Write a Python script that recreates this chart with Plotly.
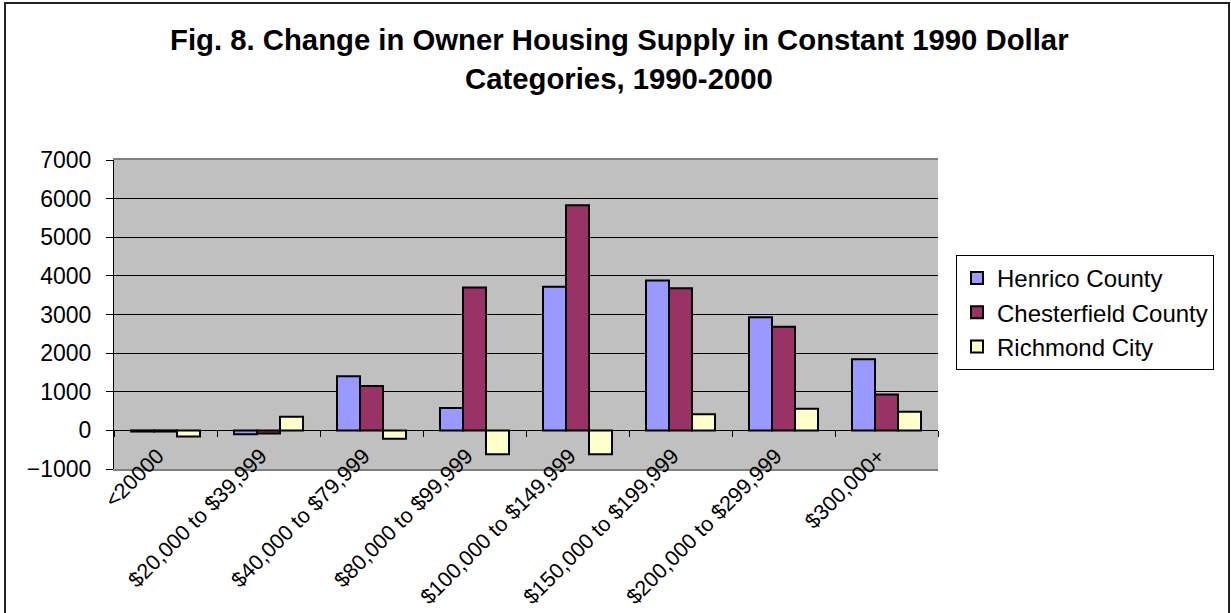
import plotly.graph_objects as go

categories = ["<20000", "$20,000 to $39,999", "$40,000 to $79,999", "$80,000 to $99,999",
              "$100,000 to $149,999", "$150,000 to $199,999", "$200,000 to $299,999", "$300,000+"]
henrico = [-30, -100, 1400, 580, 3720, 3880, 2930, 1840]
chesterfield = [-30, -80, 1150, 3700, 5830, 3680, 2680, 930]
richmond = [-160, 350, -220, -620, -620, 420, 560, 480]
series_names = ["Henrico County", "Chesterfield County", "Richmond City"]
series_colors = ["#9999FF", "#993366", "#FFFFCC"]

W, H = 1231, 613
L, R, T, B = 114, 293, 160, 144
pw, ph = W - L - R, H - T - B
ymin, ymax = -1000, 7000

fig = go.Figure()
for name, vals, col in zip(series_names, [henrico, chesterfield, richmond], series_colors):
    fig.add_trace(go.Bar(x=categories, y=vals, name=name, marker_color=col,
                         marker_line_color="black", marker_line_width=2))

font = "Liberation Sans, Arial, sans-serif"
zero_pos = (0 - ymin) / (ymax - ymin)


def py(px):
    # pixel row -> paper y
    return (H - B - px) / ph


def px_x(px):
    return (px - L) / pw


fig.update_layout(
    width=W, height=H,
    margin=dict(l=L, r=R, t=T, b=B, autoexpand=False),
    paper_bgcolor="white", plot_bgcolor="#C0C0C0",
    barmode="group", bargap=0.33, bargroupgap=0,
    font=dict(family=font, color="black"),
    xaxis=dict(tickangle=-45, tickfont=dict(size=21.5), showline=True, linecolor="#808080",
               mirror=True, linewidth=2, ticks="", showgrid=False, automargin=False,
               ticklabelstandoff=-36, ticklabelshift=-8),
    xaxis2=dict(overlaying="x", anchor="free", position=zero_pos, matches="x",
                showticklabels=False, ticks="outside", tickson="boundaries", automargin=False,
                ticklen=6, tickcolor="black", showgrid=False, showline=False),
    yaxis=dict(range=[ymin, ymax], dtick=1000, tickfont=dict(size=23), automargin=False,
               showgrid=True, gridcolor="black", gridwidth=1,
               zeroline=True, zerolinecolor="black", zerolinewidth=1,
               showline=True, linecolor="black", mirror=False, ticks="outside",
               ticklen=7, tickcolor="black", ticklabelstandoff=10),
    legend=dict(x=px_x(956), y=py(255), xanchor="left", yanchor="top",
                bordercolor="black", borderwidth=1, font=dict(size=24),
                bgcolor="white", traceorder="normal"),
    annotations=[
        dict(text="<b>Fig. 8. Change in Owner Housing Supply in Constant 1990 Dollar</b>",
             xref="paper", yref="paper", x=px_x(619), y=py(39), xanchor="center",
             yanchor="middle", showarrow=False, font=dict(size=29.3)),
        dict(text="<b>Categories, 1990-2000</b>",
             xref="paper", yref="paper", x=px_x(619), y=py(78), xanchor="center",
             yanchor="middle", showarrow=False, font=dict(size=29.3)),
    ],
    shapes=[
        dict(type="rect", xref="paper", yref="paper",
             x0=px_x(5), x1=px_x(1229), y0=py(H + 5), y1=py(3),
             line=dict(color="#222222", width=2), fillcolor="rgba(0,0,0,0)", layer="below"),
    ],
)
# invisible trace to show the tick marks at the zero line
fig.add_trace(go.Bar(x=categories, y=[None] * len(categories), xaxis="x2",
                     showlegend=False, hoverinfo="skip"))

fig.write_html("out.html", config={"displayModeBar": False},
               post_script="document.body.style.margin='0px';")
